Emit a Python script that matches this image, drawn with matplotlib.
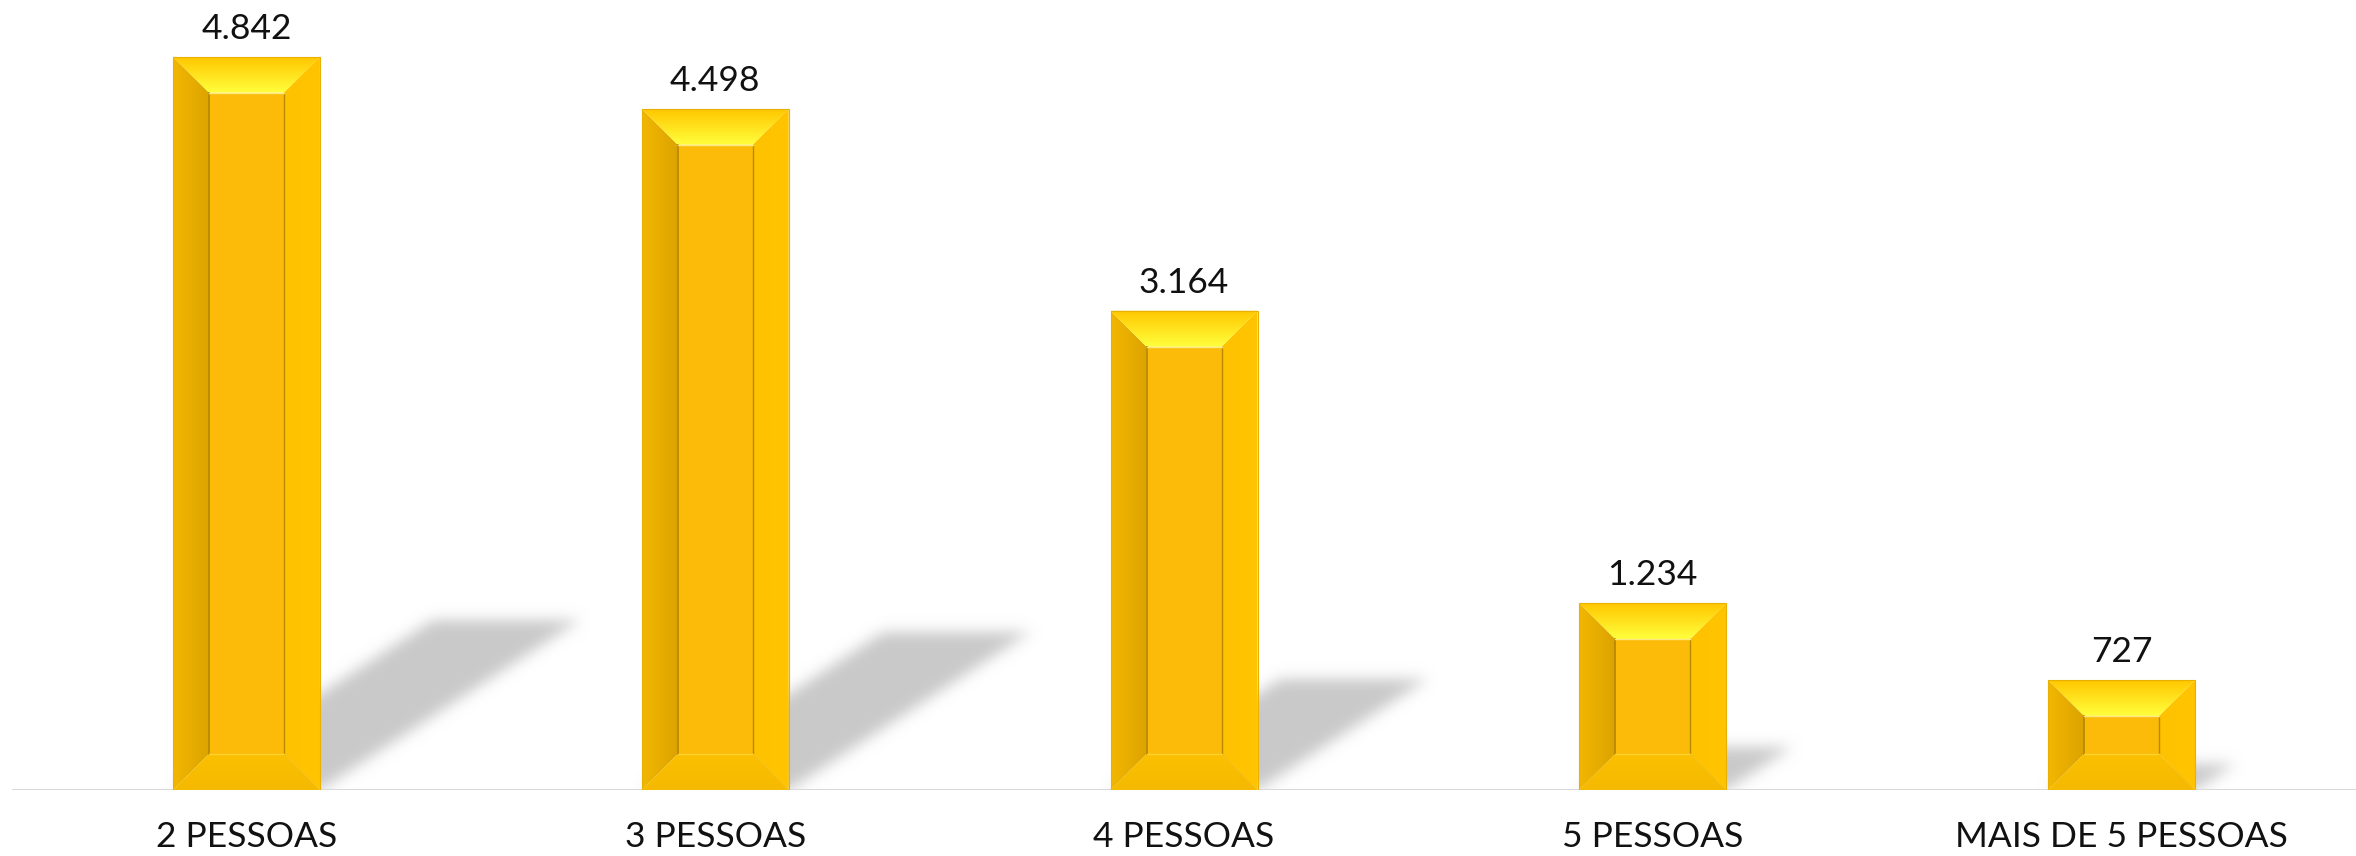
import matplotlib
matplotlib.use('Agg')
import matplotlib.pyplot as plt
import numpy as np
from matplotlib.patches import Polygon, Rectangle
from matplotlib.colors import to_rgb

categories = ['2 PESSOAS', '3 PESSOAS', '4 PESSOAS', '5 PESSOAS', 'MAIS DE 5 PESSOAS']
values = [4842, 4498, 3164, 1234, 727]
value_labels = ['4.842', '4.498', '3.164', '1.234', '727']

FONT = 'Lato'
W, H = 2356, 856
fig = plt.figure(figsize=(W / 100, H / 100), dpi=100)
ax_left, ax_bottom = 12, 66
ax_w, ax_h = W - ax_left, H - ax_bottom
ax = fig.add_axes([ax_left / W, ax_bottom / H, ax_w / W, ax_h / H])
YMAX = 5216
ax.set_xlim(-0.5, len(values) - 0.5)
ax.set_ylim(0, YMAX)
for s in ax.spines.values():
    s.set_visible(False)
ax.set_xticks([])
ax.set_yticks([])

px_x = (len(values)) / ax_w        # data units per pixel (x)
px_y = YMAX / ax_h                 # data units per pixel (y)
bar_w = 147 * px_x
bev = 36

# ---- shadows (rendered as blurred raster) ----
gx = np.arange(ax_w) + 0.5
gy = np.arange(ax_h) + 0.5
X, Y = np.meshgrid(gx, gy)
mask = np.zeros_like(X)
k = 1.53
for i, v in enumerate(values):
    xc = (i + 0.5) / px_x
    xl, xr = xc - 147 / 2, xc + 147 / 2
    h = 0.232 * v / px_y
    m = (Y >= 0) & (Y <= h) & (X - k * Y >= xl) & (X - k * Y <= xr)
    mask = np.maximum(mask, m.astype(float))

def gblur(a, sigma):
    r = int(3 * sigma)
    t = np.arange(-r, r + 1)
    ker = np.exp(-t ** 2 / (2 * sigma ** 2))
    ker /= ker.sum()
    a = np.apply_along_axis(lambda row: np.convolve(row, ker, mode='same'), 1, a)
    a = np.apply_along_axis(lambda col: np.convolve(col, ker, mode='same'), 0, a)
    return a

mask = gblur(mask, 7)
rgba = np.zeros((ax_h, ax_w, 4))
rgba[..., :3] = 0.79
rgba[..., 3] = mask
ax.imshow(rgba, extent=(-0.5, len(values) - 0.5, 0, YMAX), origin='lower',
          aspect='auto', zorder=1, interpolation='bilinear')

# ---- gradient facet helper ----
def grad_facet(poly_pts, extent, c0, c1, direction, z=3):
    c0 = np.array(to_rgb(c0)); c1 = np.array(to_rgb(c1))
    n = 64
    t = np.linspace(0, 1, n)
    if direction == 'h':
        img = (c0[None, None, :] * (1 - t)[None, :, None] + c1[None, None, :] * t[None, :, None])
        img = np.repeat(img, 2, axis=0)
    else:
        img = (c0[None, None, :] * (1 - t)[:, None, None] + c1[None, None, :] * t[:, None, None])
        img = np.repeat(img, 2, axis=1)
    poly = Polygon(poly_pts, closed=True, facecolor='none', edgecolor='none', zorder=z)
    ax.add_patch(poly)
    im = ax.imshow(img, extent=extent, origin='lower', aspect='auto', zorder=z,
                   interpolation='bilinear')
    im.set_clip_path(poly)

for i, v in enumerate(values):
    x0, x1 = i - bar_w / 2, i + bar_w / 2
    bx, by = bev * px_x, bev * px_y
    ix0, ix1, iy0, iy1 = x0 + bx, x1 - bx, by, v - by
    # left facet: outer -> inner
    grad_facet([(x0, 0), (ix0, iy0), (ix0, iy1), (x0, v)], (x0, ix0, 0, v),
               '#F2B700', '#DCA300', 'h')
    # right facet
    grad_facet([(x1, 0), (ix1, iy0), (ix1, iy1), (x1, v)], (ix1, x1, 0, v),
               '#FFC200', '#FFC400', 'h')
    # bottom facet: bottom -> top
    grad_facet([(x0, 0), (x1, 0), (ix1, iy0), (ix0, iy0)], (x0, x1, 0, iy0),
               '#F5BA00', '#FBC000', 'v', z=3.1)
    # top facet: inner(bottom) bright -> outer(top)
    grad_facet([(x0, v), (x1, v), (ix1, iy1), (ix0, iy1)], (x0, x1, iy1, v),
               '#FFFF3C', '#FFC700', 'v', z=3.1)
    # front inner face
    ax.add_patch(Rectangle((ix0, iy0), ix1 - ix0, iy1 - iy0, facecolor='#FBBB08',
                           edgecolor='none', zorder=3.2))
    ax.plot([ix0, ix0], [iy0, iy1], color='#B98A00', lw=1.3, zorder=3.3)
    ax.plot([ix1, ix1], [iy0, iy1], color='#B98A00', lw=1.0, zorder=3.3)
    ax.plot([ix0, ix1], [iy1, iy1], color='#FFE680', lw=1.0, zorder=3.3)
    ax.plot([ix0, ix1], [iy0, iy0], color='#FFD030', lw=1.0, zorder=3.3)
    ax.add_patch(Rectangle((x0, 0), x1 - x0, v, facecolor='none',
                           edgecolor='#E8B000', lw=0.8, zorder=3.4))
    ax.annotate(value_labels[i], xy=(i, v), xytext=(0, 13), textcoords='offset points',
                ha='center', va='baseline', fontsize=25.5, family=FONT, color='#111111',
                zorder=5)
    ax.annotate(categories[i], xy=(i, 0), xycoords=('data', 'axes fraction'),
                xytext=(0, -41.3), textcoords='offset points', ha='center', va='baseline',
                fontsize=25.5, family=FONT, color='#111111', annotation_clip=False)

ax.axhline(0, color='#D9D9D9', lw=2.2, zorder=2)

fig.savefig('out.png', dpi=100, facecolor='white')
